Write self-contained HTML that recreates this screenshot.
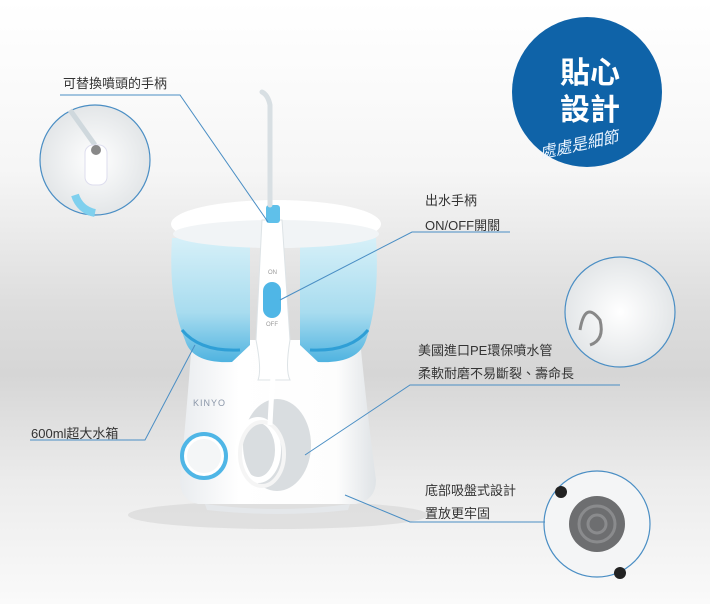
<!DOCTYPE html>
<html><head><meta charset="utf-8"><style>
html,body{margin:0;padding:0}
body{width:710px;height:604px;overflow:hidden;background:linear-gradient(#ffffff 0%,#f6f6f6 28%,#dcdcdc 52%,#d6d6d6 62%,#ececec 80%,#fafafa 100%);font-family:"Liberation Sans","Noto Sans CJK TC",sans-serif}
svg{position:absolute;left:0;top:0}
</style></head><body>
<svg width="710" height="604" viewBox="0 0 710 604" xmlns="http://www.w3.org/2000/svg" font-family="Liberation Sans, Noto Sans CJK TC, sans-serif">
<defs>
<linearGradient id="tank" x1="0" x2="0" y1="0" y2="1"><stop offset="0" stop-color="#d6f0f8"/><stop offset="0.6" stop-color="#a8dcef"/><stop offset="1" stop-color="#4fb3e0"/></linearGradient>
<radialGradient id="ins" cx="0.5" cy="0.5" r="0.5"><stop offset="0" stop-color="#ffffff"/><stop offset="1" stop-color="#e3e6e8"/></radialGradient>
<linearGradient id="body" x1="0" x2="1"><stop offset="0" stop-color="#e9ecef"/><stop offset="0.3" stop-color="#ffffff"/><stop offset="0.8" stop-color="#fdfdfd"/><stop offset="1" stop-color="#dfe3e6"/></linearGradient>
</defs>
<ellipse cx="278" cy="515" rx="150" ry="14" fill="#d0d0d0" opacity="0.5"/>
<!-- base body -->
<path d="M192 340 Q186 420 180 480 Q180 500 198 504 L356 504 Q376 500 376 480 Q368 420 360 340 Z" fill="url(#body)"/>
<path d="M205 504 Q278 514 350 504 L348 510 Q278 518 207 510 Z" fill="#e4e7ea"/>
<!-- tank -->
<path d="M172 238 Q168 300 185 340 Q192 364 232 362 L250 345 L250 238 Z" fill="url(#tank)"/>
<path d="M300 238 L300 345 L318 362 Q358 364 366 340 Q380 300 376 238 Z" fill="url(#tank)"/>
<path d="M182 330 Q200 352 240 350" stroke="#2f9fd6" stroke-width="3" fill="none"/>
<path d="M310 350 Q350 352 368 330" stroke="#2f9fd6" stroke-width="3" fill="none"/>
<!-- lid -->
<ellipse cx="276" cy="224" rx="105" ry="24" fill="#ffffff"/>
<ellipse cx="276" cy="234" rx="103" ry="14" fill="#f1f4f6"/>
<!-- handle -->
<path d="M262 220 L282 220 L290 340 Q285 370 290 380 L258 380 Q262 370 256 340 Z" fill="#ffffff" stroke="#dde3e6"/>
<rect x="266" y="205" width="14" height="18" rx="3" fill="#5fc0ea"/>
<path d="M270 205 L270 105 Q268 95 262 92" stroke="#d8dfe3" stroke-width="5" fill="none" stroke-linecap="round"/>
<rect x="263" y="282" width="18" height="36" rx="9" fill="#4fb6e6"/>
<text x="268" y="274" font-size="6" fill="#999">ON</text>
<text x="266" y="326" font-size="6" fill="#999">OFF</text>
<text x="193" y="406" font-size="9" fill="#8a96a8" letter-spacing="1">KINYO</text>
<!-- hose window -->
<ellipse cx="277" cy="445" rx="34" ry="46" fill="#d9dde0"/>
<ellipse cx="258" cy="450" rx="20" ry="30" fill="none" stroke="#fff" stroke-width="6"/>
<ellipse cx="262" cy="454" rx="22" ry="32" fill="none" stroke="#f5f5f5" stroke-width="4"/>
<path d="M270 425 Q272 380 275 360" stroke="#fff" stroke-width="5" fill="none"/>
<!-- knob -->
<circle cx="204" cy="456" r="22" fill="#fff" stroke="#4fb6e6" stroke-width="4"/>
<circle cx="204" cy="456" r="17" fill="#f4f6f7"/>
<!-- blue badge -->
<circle cx="587" cy="92" r="75" fill="#0f63a8"/>
<text x="560" y="83" font-size="30" font-weight="bold" fill="#fff">貼心</text>
<text x="560" y="120" font-size="30" font-weight="bold" fill="#fff">設計</text>
<text x="540" y="150" font-size="16" fill="#eaf4ff" transform="rotate(-12 580 150)" font-style="italic">處處是細節</text>
<!-- insets -->
<circle cx="95" cy="160" r="55" fill="url(#ins)" stroke="#4a8ec4" stroke-width="1.2"/>
<path d="M70 110 L95 145" stroke="#cfd8dd" stroke-width="5"/>
<rect x="85" y="145" width="22" height="40" rx="8" fill="#fff" stroke="#dde"/>
<circle cx="96" cy="150" r="5" fill="#888"/>
<path d="M75 195 Q80 210 95 213" stroke="#7fd0ee" stroke-width="8" fill="none"/>
<circle cx="620" cy="312" r="55" fill="url(#ins)" stroke="#4a8ec4" stroke-width="1.2"/>
<path d="M580 330 Q585 300 600 320 Q605 340 590 345" stroke="#888" stroke-width="3" fill="none"/>
<circle cx="597" cy="524" r="53" fill="#f4f5f6" stroke="#4a8ec4" stroke-width="1.2"/>
<circle cx="597" cy="524" r="28" fill="#6d6e70"/>
<circle cx="597" cy="524" r="18" fill="none" stroke="#8a8b8d" stroke-width="3"/>
<circle cx="597" cy="524" r="9" fill="none" stroke="#8a8b8d" stroke-width="3"/>
<circle cx="561" cy="492" r="6" fill="#222"/>
<circle cx="620" cy="573" r="6" fill="#222"/>
<g font-size="13" fill="#333">
<text x="63" y="88">可替換噴頭的手柄</text>
<text x="425" y="205">出水手柄</text>
<text x="425" y="230">ON/OFF開關</text>
<text x="418" y="355">美國進口PE環保噴水管</text>
<text x="418" y="378">柔軟耐磨不易斷裂、壽命長</text>
<text x="31" y="438">600ml超大水箱</text>
<text x="425" y="495">底部吸盤式設計</text>
<text x="425" y="518">置放更牢固</text>
</g>
<g stroke="#4a8ec4" stroke-width="1" fill="none">
<polyline points="60,95 180,95 268,222"/>
<polyline points="510,232 412,232 280,300"/>
<polyline points="620,385 410,385 305,455"/>
<polyline points="30,440 145,440 195,345"/>
<polyline points="545,522 410,522 345,495"/>
</g>
</svg>
</body></html>
